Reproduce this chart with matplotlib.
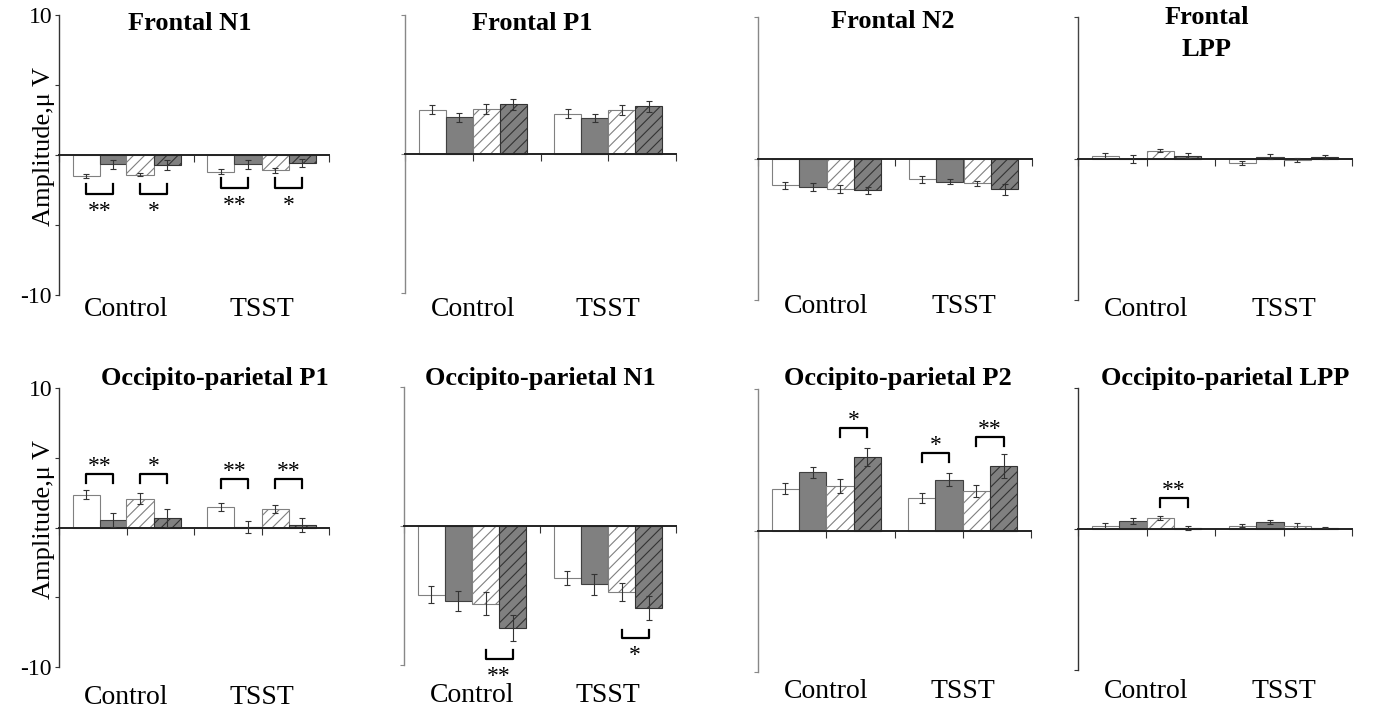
import numpy as np
import matplotlib
matplotlib.use('Agg')
import matplotlib.pyplot as plt
import matplotlib.transforms as mtransforms

plt.rcParams['font.family'] = ['Liberation Serif', 'DejaVu Serif']
plt.rcParams['hatch.linewidth'] = 0.8

groups = ['Control', 'TSST']

# bar order in each group: white, grey, white hatched, grey hatched
frontal_n1_mean = [[-1.5, -0.67, -1.4, -0.71], [-1.19, -0.67, -1.1, -0.57]]
frontal_n1_err = [[0.16, 0.3, 0.12, 0.33], [0.2, 0.3, 0.18, 0.3]]

frontal_p1_mean = [[3.2, 2.64, 3.24, 3.57], [2.9, 2.57, 3.14, 3.43]]
frontal_p1_err = [[0.3, 0.32, 0.34, 0.4], [0.32, 0.3, 0.35, 0.38]]

frontal_n2_mean = [[-1.9, -2.04, -2.14, -2.25], [-1.48, -1.64, -1.76, -2.18]]
frontal_n2_err = [[0.23, 0.29, 0.29, 0.27], [0.23, 0.19, 0.18, 0.41]]

frontal_lpp_mean = [[0.21, -0.05, 0.56, 0.21], [-0.3, 0.14, -0.1, 0.1]]
frontal_lpp_err = [[0.18, 0.27, 0.13, 0.18], [0.15, 0.18, 0.13, 0.14]]

op_p1_mean = [[2.36, 0.55, 2.07, 0.69], [1.48, 0.02, 1.33, 0.17]]
op_p1_err = [[0.31, 0.5, 0.4, 0.64], [0.31, 0.44, 0.31, 0.52]]

op_n1_mean = [[-4.93, -5.4, -5.6, -7.33], [-3.74, -4.2, -4.76, -5.9]]
op_n1_err = [[0.6, 0.69, 0.83, 0.92], [0.52, 0.73, 0.65, 0.85]]

op_p2_mean = [[2.96, 4.1, 3.15, 5.21], [2.3, 3.6, 2.82, 4.57]]
op_p2_err = [[0.4, 0.41, 0.49, 0.65], [0.33, 0.49, 0.43, 0.83]]

op_lpp_mean = [[0.24, 0.59, 0.78, 0.05], [0.24, 0.5, 0.24, 0.1]]
op_lpp_err = [[0.17, 0.21, 0.17, 0.14], [0.12, 0.14, 0.17, 0.06]]

# significance: (group, first bar of pair, bracket level, leg end, label)
sig_frontal_n1 = [(0, 0, -2.8, -2.1, '**'), (0, 2, -2.8, -2.1, '*'),
                  (1, 0, -2.35, -1.65, '**'), (1, 2, -2.35, -1.65, '*')]
sig_op_p1 = [(0, 0, 3.86, 3.2, '**'), (0, 2, 3.86, 3.2, '*'),
             (1, 0, 3.5, 2.86, '**'), (1, 2, 3.5, 2.86, '**')]
sig_op_n1 = [(0, 2, -9.55, -8.9, '**'), (1, 2, -8.07, -7.48, '*')]
sig_op_p2 = [(0, 2, 7.27, 6.63, '*'), (1, 0, 5.5, 4.86, '*'), (1, 2, 6.63, 5.97, '**')]
sig_op_lpp = [(0, 2, 2.22, 1.58, '**')]

W, H = 1374, 715
fig = plt.figure(figsize=(W / 100, H / 100), dpi=100)

def rect(l, r, t, b):
    return [l / W, 1 - b / H, (r - l) / W, (b - t) / H]

fills = ['white', '#808080', 'white', '#808080']
edges = ['#808080', '#404040', '#808080', '#333333']
hatches = [None, None, '///', '///']
offsets = [-0.3, -0.1, 0.1, 0.3]
centers = np.array([0.5, 1.5])

panels = [
    ('Frontal N1', (190, 23), frontal_n1_mean, frontal_n1_err, sig_frontal_n1, (59, 329, 15, 295), '#333333', True, 310),
    ('Frontal P1', (532, 24), frontal_p1_mean, frontal_p1_err, [], (405, 676, 15, 293), '#888888', False, 309),
    ('Frontal N2', (893, 21), frontal_n2_mean, frontal_n2_err, [], (758, 1032, 17, 300), '#888888', False, 306),
    ('Frontal\nLPP', (1207, 34), frontal_lpp_mean, frontal_lpp_err, [], (1078, 1352, 17, 300), '#444444', False, 309),
    ('Occipito-parietal P1', (215, 378), op_p1_mean, op_p1_err, sig_op_p1, (59, 329, 388, 667), '#333333', True, 698),
    ('Occipito-parietal N1', (540, 378), op_n1_mean, op_n1_err, sig_op_n1, (404, 676, 387, 665), '#888888', False, 695),
    ('Occipito-parietal P2', (898, 378), op_p2_mean, op_p2_err, sig_op_p2, (758, 1031, 389, 672), '#888888', False, 692),
    ('Occipito-parietal LPP', (1225, 378), op_lpp_mean, op_lpp_err, sig_op_lpp, (1078, 1352, 388, 670), '#333333', False, 692),
]

for title, (tx, ty), means, errs, sig, box, spcol, first_col, laby in panels:
    ax = fig.add_axes(rect(*box))
    means = np.array(means)
    errs = np.array(errs)
    for i in range(4):
        ax.bar(centers + offsets[i], means[:, i], width=0.2, color=fills[i],
               edgecolor=edges[i], hatch=hatches[i], linewidth=0.8, zorder=2)
        ax.errorbar(centers + offsets[i], means[:, i], yerr=errs[:, i], fmt='none',
                    ecolor='#333333', elinewidth=0.8, capsize=2.2, capthick=0.8, zorder=3)

    for g, b, level, leg, lab in sig:
        x0 = centers[g] + offsets[b]
        x1 = centers[g] + offsets[b + 1]
        ax.plot([x0, x0, x1, x1], [leg, level, level, leg], color='black', lw=1.6,
                clip_on=False, zorder=4)
        if leg < level:
            ax.text((x0 + x1) / 2, level + 0.15, lab, ha='center', va='baseline',
                    fontsize=17, clip_on=False)
        else:
            ax.text((x0 + x1) / 2, level - 1.65, lab, ha='center', va='baseline',
                    fontsize=17, clip_on=False)

    ax.set_xlim(0, 2)
    ax.set_ylim(-10, 10)
    ax.spines['top'].set_visible(False)
    ax.spines['right'].set_visible(False)
    ax.spines['left'].set_color(spcol)
    ax.spines['left'].set_linewidth(1.0)
    ax.spines['bottom'].set_position(('data', 0))
    ax.spines['bottom'].set_color('#222222')
    ax.spines['bottom'].set_linewidth(1.4)
    ax.set_xticks([0, 0.5, 1, 1.5, 2])
    ax.set_xticklabels([])
    ax.tick_params(axis='x', direction='out', length=5, width=0.8, colors='#333333')
    if first_col:
        ax.set_yticks([-10, -5, 0, 5, 10])
        ax.set_yticklabels(['-10', '', '', '', '10'], fontsize=17)
    else:
        ax.set_yticks([-10, 0, 10])
        ax.set_yticklabels([])
    ax.tick_params(axis='y', direction='out', length=3, width=0.8, colors=spcol,
                   labelcolor='black', pad=2)
    ax.patch.set_alpha(0)

    trans = mtransforms.blended_transform_factory(ax.transData, fig.transFigure)
    for gc, name in zip(centers, groups):
        ax.text(gc, 1 - laby / H, name, transform=trans, ha='center', va='center',
                fontsize=20, clip_on=False)

    fig.text(tx / W, 1 - ty / H, title, ha='center', va='center', fontsize=19,
             fontweight='bold', linespacing=1.5)

    if first_col:
        cy = (box[2] + box[3]) / 2 - 8
        fig.text(44 / W, 1 - cy / H, 'Amplitude,\u03bc V', rotation=90, ha='center',
                 va='center', fontsize=19)

fig.savefig('out.png', dpi=100)
